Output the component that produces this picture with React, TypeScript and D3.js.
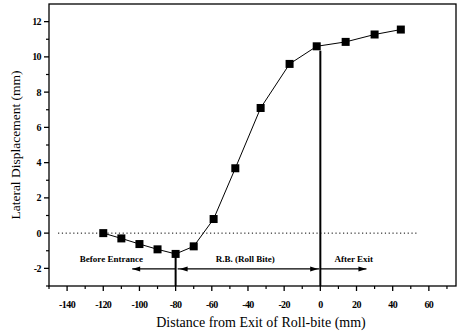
import React from "react";
import * as d3 from "d3";

// Lateral displacement along the strip, measured from the exit of the roll bite
const xValues = [-120, -110, -100, -90, -80, -70, -59, -47, -33, -17, -2, 14, 30, 44.5];
const yValues = [0, -0.3, -0.62, -0.92, -1.18, -0.75, 0.8, 3.68, 7.1, 9.6, 10.6, 10.85, 11.27, 11.55];

const xMajorTicks = [-140, -120, -100, -80, -60, -40, -20, 0, 20, 40, 60];
const xMinorTicks = [-150, -130, -110, -90, -70, -50, -30, -10, 10, 30, 50, 70];
const yMajorTicks = [-2, 0, 2, 4, 6, 8, 10, 12];
const yMinorTicks = [-3, -1, 1, 3, 5, 7, 9, 11];

// Zone boundaries and annotations
const entranceX = -80;
const exitX = 0;
const exitLineTop = 10.35;
const zoneLabels = ["Before Entrance", "R.B. (Roll Bite)", "After Exit"];
const zoneLabelX = [-115.5, -41.5, 18.5];
const arrowY = -2.03;
const beforeArrowTip = -104;
const afterArrowTip = 25.5;

const W = 462;
const H = 334;
const margin = { left: 49, right: 6, top: 4, bottom: 48 };

export default function App() {
  const x = d3.scaleLinear().domain([-150, 75]).range([margin.left, W - margin.right]);
  const y = d3.scaleLinear().domain([-3, 13]).range([H - margin.bottom, margin.top]);

  const line = d3
    .line<number>()
    .x((_, i) => x(xValues[i]))
    .y((d) => y(d));

  const font = "'Liberation Serif', 'Times New Roman', serif";
  const x0 = x.range()[0];
  const x1 = x.range()[1];
  const yb = y.range()[0];
  const yt = y.range()[1];
  const ay = y(arrowY);
  const ms = 8;

  const arrowHead = (tipX: number, dir: 1 | -1) =>
    `M${tipX},${ay} L${tipX - dir * 8},${ay - 2.5} L${tipX - dir * 8},${ay + 2.5} Z`;

  return (
    <svg
      width={W}
      height={H}
      style={{ position: "absolute", left: 0, top: 0, background: "#fff" }}
      fontFamily={font}
    >
      {/* zero reference */}
      <line
        x1={x(-145)}
        x2={x(54)}
        y1={y(0)}
        y2={y(0)}
        stroke="#000"
        strokeWidth={1}
        strokeDasharray="1.2,2.6"
      />

      {/* zone boundaries */}
      <line x1={x(entranceX)} x2={x(entranceX)} y1={yb} y2={y(yValues[4])} stroke="#000" strokeWidth={2} />
      <line x1={x(exitX)} x2={x(exitX)} y1={yb} y2={y(exitLineTop)} stroke="#000" strokeWidth={2} />

      {/* zone arrows */}
      <line x1={x(entranceX)} x2={x(beforeArrowTip)} y1={ay} y2={ay} stroke="#000" strokeWidth={1.2} />
      <path d={arrowHead(x(beforeArrowTip), -1)} fill="#000" />
      <line x1={x(entranceX) + 2} x2={x(exitX) - 1} y1={ay} y2={ay} stroke="#000" strokeWidth={1.2} />
      <path d={arrowHead(x(-77.8), -1)} fill="#000" />
      <path d={arrowHead(x(-1.2), 1)} fill="#000" />
      <line x1={x(exitX)} x2={x(afterArrowTip)} y1={ay} y2={ay} stroke="#000" strokeWidth={1.2} />
      <path d={arrowHead(x(afterArrowTip), 1)} fill="#000" />

      {zoneLabels.map((t, i) => (
        <text
          key={t}
          x={x(zoneLabelX[i])}
          y={ay - 7}
          textAnchor="middle"
          fontSize={9}
          fontWeight="bold"
          fill="#000"
        >
          {t}
        </text>
      ))}

      {/* series */}
      <path d={line(yValues) ?? ""} fill="none" stroke="#000" strokeWidth={1} />
      {yValues.map((v, i) => (
        <rect
          key={i}
          x={x(xValues[i]) - ms / 2}
          y={y(v) - ms / 2}
          width={ms}
          height={ms}
          fill="#000"
        />
      ))}

      {/* frame */}
      <rect x={x0} y={yt} width={x1 - x0} height={yb - yt} fill="none" stroke="#000" strokeWidth={1.3} />

      {/* x axis */}
      {xMajorTicks.map((t) => (
        <g key={`xm${t}`}>
          <line x1={x(t)} x2={x(t)} y1={yb} y2={yb + 5} stroke="#000" strokeWidth={1.3} />
          <text
            x={x(t)}
            y={yb + 22}
            textAnchor="middle"
            fontSize={10}
            fontWeight="bold"
            letterSpacing={-0.6}
            fill="#000"
          >
            {t}
          </text>
        </g>
      ))}
      {xMinorTicks.map((t) => (
        <line key={`xn${t}`} x1={x(t)} x2={x(t)} y1={yb} y2={yb + 3} stroke="#000" strokeWidth={1.2} />
      ))}

      {/* y axis */}
      {yMajorTicks.map((t) => (
        <g key={`ym${t}`}>
          <line x1={x0} x2={x0 - 5} y1={y(t)} y2={y(t)} stroke="#000" strokeWidth={1.3} />
          <text
            x={x0 - 8}
            y={y(t) + 3.5}
            textAnchor="end"
            fontSize={10}
            fontWeight="bold"
            letterSpacing={-0.6}
            fill="#000"
          >
            {t}
          </text>
        </g>
      ))}
      {yMinorTicks.map((t) => (
        <line key={`yn${t}`} x1={x0} x2={x0 - 3} y1={y(t)} y2={y(t)} stroke="#000" strokeWidth={1.2} />
      ))}

      {/* axis titles */}
      <text x={261} y={327} textAnchor="middle" fontSize={14} fill="#000">
        Distance from Exit of Roll-bite (mm)
      </text>
      <text
        transform={`translate(20,145) rotate(-90)`}
        textAnchor="middle"
        fontSize={13.5}
        fill="#000"
      >
        Lateral Displacement (mm)
      </text>
    </svg>
  );
}
